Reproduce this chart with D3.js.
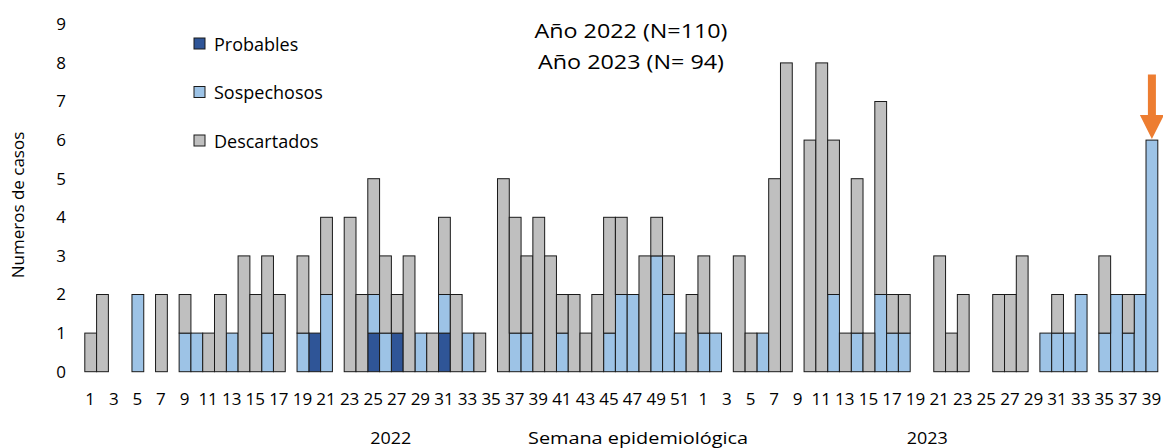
<!DOCTYPE html>
<html><head><meta charset="utf-8">
<script src="https://cdn.jsdelivr.net/npm/d3@7"></script>
<style>body{margin:0;background:#fff}svg{display:block}text{font-family:"Open Sans",sans-serif;fill:#000}</style>
</head><body><svg id="c" width="1163" height="448"></svg>
<script>
const years = ["2022", "2023"];
const weeks2022 = d3.range(1, 53);
const weeks2023 = d3.range(1, 40);
const probables2022 = [0,0,0,0,0,0,0,0,0,0,0,0,0,0,0,0,0,0,0,1,0,0,0,0,1,0,1,0,0,0,1,0,0,0,0,0,0,0,0,0,0,0,0,0,0,0,0,0,0,0,0,0];
const sospechosos2022 = [0,0,0,0,2,0,0,0,1,1,0,0,1,0,0,1,0,0,1,0,2,0,0,0,1,1,0,0,1,0,1,0,1,0,0,0,1,1,0,0,1,0,0,0,1,2,2,0,3,2,1,0];
const descartados2022 = [1,2,0,0,0,0,2,0,1,0,1,2,0,3,2,2,2,0,2,0,2,0,4,2,3,2,1,3,0,1,2,2,0,1,0,5,3,2,4,3,1,2,1,2,3,2,0,3,1,1,0,2];
const probables2023 = [0,0,0,0,0,0,0,0,0,0,0,0,0,0,0,0,0,0,0,0,0,0,0,0,0,0,0,0,0,0,0,0,0,0,0,0,0,0,0];
const sospechosos2023 = [1,1,0,0,0,1,0,0,0,0,0,2,0,1,0,2,1,1,0,0,0,0,0,0,0,0,0,0,0,1,1,1,2,0,1,2,1,2,6];
const descartados2023 = [2,0,0,3,1,0,5,8,0,6,8,4,1,4,1,5,1,1,0,0,3,1,2,0,0,2,2,3,0,0,1,0,0,0,2,0,1,0,0];
const seriesNames = ["Probables", "Sospechosos", "Descartados"];
const yTicks = [0,1,2,3,4,5,6,7,8,9];
const titleLines = ["Año 2022 (N=110)", "Año 2023 (N= 94)"];
const xTitle = "Semana epidemiológica";
const yTitle = "Numeros de casos";

const colors = {Probables:"#2F5597", Sospechosos:"#9DC3E6", Descartados:"#BFBFBF"};

const rows = [];
weeks2022.forEach((w,i)=>rows.push({key:"2022-"+w, year:"2022", week:w, Probables:probables2022[i], Sospechosos:sospechosos2022[i], Descartados:descartados2022[i]}));
weeks2023.forEach((w,i)=>rows.push({key:"2023-"+w, year:"2023", week:w, Probables:probables2023[i], Sospechosos:sospechosos2023[i], Descartados:descartados2023[i]}));

const svg = d3.select("#c");
const x = d3.scaleBand().domain(rows.map(r=>r.key)).range([84.3, 1157.3]).padding(0);
const y = d3.scaleLinear().domain([0, 9]).range([371.7, 24.3]);

const stack = d3.stack().keys(seriesNames)(rows);
const g = svg.append("g");
stack.forEach(layer=>{
  g.selectAll(null).data(layer.filter(d=>d[1]-d[0]>0)).join("rect")
    .attr("x", d=>x(d.data.key)+0.5)
    .attr("width", x.bandwidth())
    .attr("y", d=>y(d[1]))
    .attr("height", d=>y(d[0])-y(d[1]))
    .attr("fill", colors[layer.key])
    .attr("stroke", "#1a1a1a").attr("stroke-width", 1);
});

// y axis labels
const yAxis = d3.axisLeft(y).tickValues(yTicks).tickSize(0).tickPadding(0);
const ya = svg.append("g").attr("transform","translate(66,0)").call(yAxis);
ya.select(".domain").remove();
ya.selectAll("text").style("font-family","'Open Sans',sans-serif").style("font-size","17px").attr("fill","#000");

// x axis labels (odd weeks)
const xAxis = d3.axisBottom(x).tickValues(rows.filter(r=>r.week%2===1).map(r=>r.key)).tickFormat(k=>k.split("-")[1]).tickSize(0).tickPadding(0);
const xa = svg.append("g").attr("transform","translate(0,393)").call(xAxis);
xa.select(".domain").remove();
xa.selectAll("text").style("font-family","'Open Sans',sans-serif").style("font-size","17px").attr("fill","#000");

// year labels
const yearW = {"2022":41, "2023":41};
years.forEach(yr=>{
  const ks = rows.filter(r=>r.year===yr).map(r=>r.key);
  const cx = (x(ks[0]) + x(ks[ks.length-1]) + x.bandwidth())/2;
  svg.append("text").attr("x", cx).attr("y", 444).attr("text-anchor","middle").style("font-size","17px")
    .attr("textLength", yearW[yr]).attr("lengthAdjust","spacingAndGlyphs").text(yr);
});
svg.append("text").attr("x", 638).attr("y", 444).attr("text-anchor","middle").style("font-size","17px")
  .attr("textLength", 220).attr("lengthAdjust","spacingAndGlyphs").text(xTitle);
svg.append("text").attr("transform","translate(24,205) rotate(-90)").attr("text-anchor","middle").style("font-size","17px").text(yTitle);

// title
const titleW = [193, 186];
titleLines.forEach((t,i)=>svg.append("text").attr("x",631).attr("y",38+i*31).attr("text-anchor","middle").style("font-size","20px")
  .attr("textLength", titleW[i]).attr("lengthAdjust","spacingAndGlyphs").text(t));

// legend
seriesNames.forEach((s,i)=>{
  const ly = 44 + i*48.5;
  svg.append("rect").attr("x",194).attr("y",ly-6).attr("width",11).attr("height",11).attr("fill",colors[s]).attr("stroke","#1a1a1a").attr("stroke-width",1);
  svg.append("text").attr("x",214).attr("y",ly+6.5).style("font-size","18px").text(s);
});

// arrow above last bar
const last = rows[rows.length-1];
const ax = x(last.key) + x.bandwidth()/2 + 0.5;
const tipY = y(last.Probables+last.Sospechosos+last.Descartados) - 1;
const topY = y(7.7);
const hw = 12, sw = 4, hh = 24;
svg.append("path").attr("d", `M${ax-sw},${topY} L${ax+sw},${topY} L${ax+sw},${tipY-hh} L${ax+hw},${tipY-hh} L${ax},${tipY} L${ax-hw},${tipY-hh} L${ax-sw},${tipY-hh} Z`).attr("fill","#ED7D31");
</script></body></html>
